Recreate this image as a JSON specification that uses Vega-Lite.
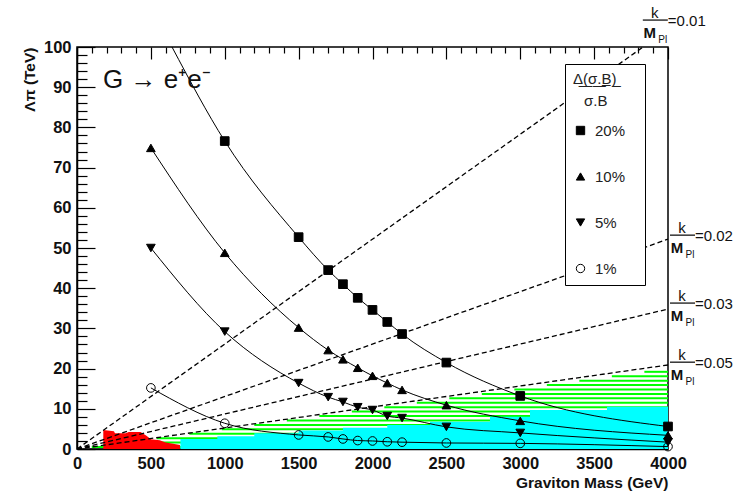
{
  "$schema": "https://vega.github.io/schema/vega-lite/v6.json",
  "width": 591,
  "height": 402,
  "autosize": {"type": "none"},
  "padding": {"left": 77, "top": 47, "right": 68, "bottom": 45},
  "background": "white",
  "config": {
    "view": {"stroke": "black", "strokeWidth": 1.5},
    "font": "Liberation Sans",
    "axis": {
      "domainColor": "black", "domainWidth": 1.5, "tickColor": "black", "tickWidth": 1.2, "grid": false,
      "labelFont": "Liberation Sans", "labelFontWeight": "bold", "labelFontSize": 16.5, "labelColor": "#111",
      "titleFont": "Liberation Sans", "titleFontWeight": "bold", "titleFontSize": 15.5, "titleColor": "#111"
    }
  },
  "datasets": {
    "hatch": [
      {"m": 100, "lam": 0.5}, {"m": 320, "lam": 1.6}, {"m": 540, "lam": 2.7}, {"m": 760, "lam": 3.8},
      {"m": 980, "lam": 4.9}, {"m": 1200, "lam": 6.0}, {"m": 1420, "lam": 7.1}, {"m": 1640, "lam": 8.2},
      {"m": 1860, "lam": 9.3}, {"m": 2080, "lam": 10.4}, {"m": 2300, "lam": 11.5}, {"m": 2520, "lam": 12.6},
      {"m": 2740, "lam": 13.7}, {"m": 2960, "lam": 14.8}, {"m": 3180, "lam": 15.9}, {"m": 3400, "lam": 17.0},
      {"m": 3620, "lam": 18.1}, {"m": 3840, "lam": 19.2}
    ],
    "cyan": [
      {"m": 700, "lam": 2.5}, {"m": 950, "lam": 3.2}, {"m": 1200, "lam": 3.9}, {"m": 1500, "lam": 4.6},
      {"m": 1800, "lam": 5.3}, {"m": 2100, "lam": 6.0}, {"m": 2389, "lam": 6.8}, {"m": 2795, "lam": 8.0},
      {"m": 3066, "lam": 9.7}, {"m": 3587, "lam": 10.5}, {"m": 4000, "lam": 10.5}
    ],
    "red": [
      {"m": 178, "lam": 4.7}, {"m": 250, "lam": 4.4}, {"m": 257, "lam": 3.9}, {"m": 330, "lam": 3.9},
      {"m": 350, "lam": 4.2}, {"m": 430, "lam": 4.2}, {"m": 470, "lam": 3.3}, {"m": 500, "lam": 2.4},
      {"m": 560, "lam": 2.2}, {"m": 600, "lam": 1.6}, {"m": 650, "lam": 1.3}, {"m": 697, "lam": 1.0}
    ],
    "klines": [
      {"c": "0.01", "m": 0, "lam": 0}, {"c": "0.01", "m": 4000, "lam": 104.4},
      {"c": "0.02", "m": 0, "lam": 0}, {"c": "0.02", "m": 4000, "lam": 52.2},
      {"c": "0.03", "m": 0, "lam": 0}, {"c": "0.03", "m": 4000, "lam": 34.8},
      {"c": "0.05", "m": 0, "lam": 0}, {"c": "0.05", "m": 4000, "lam": 20.9}
    ],
    "klab": [
      {"c": "0.01", "m": 3816, "lam": 106.7, "eq": "=0.01"},
      {"c": "0.02", "m": 4000, "lam": 53.2, "eq": "=0.02"},
      {"c": "0.03", "m": 4000, "lam": 36.3, "eq": "=0.03"},
      {"c": "0.05", "m": 4000, "lam": 21.6, "eq": "=0.05"}
    ],
    "pts": [
      {"s": "20%", "m": 643, "lam": 100, "f": 0},
      {"s": "20%", "m": 1000, "lam": 76.6, "f": 1}, {"s": "20%", "m": 1500, "lam": 52.7, "f": 1},
      {"s": "20%", "m": 1700, "lam": 44.5, "f": 1}, {"s": "20%", "m": 1800, "lam": 41.0, "f": 1},
      {"s": "20%", "m": 1900, "lam": 37.6, "f": 1}, {"s": "20%", "m": 2000, "lam": 34.6, "f": 1},
      {"s": "20%", "m": 2100, "lam": 31.6, "f": 1}, {"s": "20%", "m": 2200, "lam": 28.6, "f": 1},
      {"s": "20%", "m": 2500, "lam": 21.5, "f": 1}, {"s": "20%", "m": 3000, "lam": 13.2, "f": 1},
      {"s": "20%", "m": 4000, "lam": 5.6, "f": 1},
      {"s": "10%", "m": 500, "lam": 74.9, "f": 1}, {"s": "10%", "m": 1000, "lam": 48.8, "f": 1},
      {"s": "10%", "m": 1500, "lam": 30.2, "f": 1}, {"s": "10%", "m": 1700, "lam": 24.6, "f": 1},
      {"s": "10%", "m": 1800, "lam": 22.3, "f": 1}, {"s": "10%", "m": 1900, "lam": 20.2, "f": 1},
      {"s": "10%", "m": 2000, "lam": 18.2, "f": 1}, {"s": "10%", "m": 2100, "lam": 16.4, "f": 1},
      {"s": "10%", "m": 2200, "lam": 14.7, "f": 1}, {"s": "10%", "m": 2500, "lam": 10.9, "f": 1},
      {"s": "10%", "m": 3000, "lam": 7.0, "f": 1}, {"s": "10%", "m": 4000, "lam": 3.4, "f": 1},
      {"s": "5%", "m": 500, "lam": 50.0, "f": 1}, {"s": "5%", "m": 1000, "lam": 29.2, "f": 1},
      {"s": "5%", "m": 1500, "lam": 16.4, "f": 1}, {"s": "5%", "m": 1700, "lam": 12.9, "f": 1},
      {"s": "5%", "m": 1800, "lam": 11.7, "f": 1}, {"s": "5%", "m": 1900, "lam": 10.4, "f": 1},
      {"s": "5%", "m": 2000, "lam": 9.7, "f": 1}, {"s": "5%", "m": 2100, "lam": 8.2, "f": 1},
      {"s": "5%", "m": 2200, "lam": 7.7, "f": 1}, {"s": "5%", "m": 2500, "lam": 5.5, "f": 1},
      {"s": "5%", "m": 3000, "lam": 4.0, "f": 1}, {"s": "5%", "m": 4000, "lam": 1.7, "f": 1},
      {"s": "1%", "m": 500, "lam": 15.2, "f": 1}, {"s": "1%", "m": 1000, "lam": 6.4, "f": 1},
      {"s": "1%", "m": 1500, "lam": 3.5, "f": 1}, {"s": "1%", "m": 1700, "lam": 3.0, "f": 1},
      {"s": "1%", "m": 1800, "lam": 2.5, "f": 1}, {"s": "1%", "m": 1900, "lam": 2.1, "f": 1},
      {"s": "1%", "m": 2000, "lam": 2.0, "f": 1}, {"s": "1%", "m": 2100, "lam": 1.8, "f": 1},
      {"s": "1%", "m": 2200, "lam": 1.7, "f": 1}, {"s": "1%", "m": 2500, "lam": 1.5, "f": 1},
      {"s": "1%", "m": 3000, "lam": 1.4, "f": 1}, {"s": "1%", "m": 4000, "lam": 0.6, "f": 1}
    ]
  },
  "layer": [
    {
      "data": {"name": "hatch"},
      "mark": {"type": "rule", "color": "#00ff00", "strokeWidth": 2},
      "encoding": {
        "x": {"field": "m", "type": "quantitative", "scale": {"domain": [0, 4000], "nice": false, "zero": false},
          "axis": {"orient": "bottom", "values": [0, 500, 1000, 1500, 2000, 2500, 3000, 3500, 4000], "format": "d",
            "ticks": false, "grid": true, "gridColor": "black", "gridWidth": 1.2, "gridOpacity": 1, "gridDash": [12, 1000],
            "labelPadding": 6, "labelFlush": false, "title": "Graviton Mass (GeV)", "titleAnchor": "end", "titlePadding": 4}},
        "x2": {"datum": 4000},
        "y": {"field": "lam", "type": "quantitative", "scale": {"domain": [0, 100], "nice": false},
          "axis": {"orient": "left", "values": [0, 10, 20, 30, 40, 50, 60, 70, 80, 90, 100], "ticks": false,
            "grid": true, "gridColor": "black", "gridWidth": 1.2, "gridOpacity": 1, "gridDash": [18, 1000],
            "labelPadding": 6, "labelFlush": false, "title": "Λπ (TeV)", "titleAnchor": "end", "titlePadding": 6}}
      }
    },
    {
      "data": {"name": "cyan"},
      "mark": {"type": "area", "color": "#00ffff", "interpolate": "step-after", "opacity": 1},
      "encoding": {
        "x": {"field": "m", "type": "quantitative", "scale": {"domain": [0, 4000], "nice": false, "zero": false},
          "axis": {"orient": "bottom", "values": [100,200,300,400,600,700,800,900,1100,1200,1300,1400,1600,1700,1800,1900,2100,2200,2300,2400,2600,2700,2800,2900,3100,3200,3300,3400,3600,3700,3800,3900],
            "ticks": false, "grid": true, "gridColor": "black", "gridWidth": 1.2, "gridDash": [6, 1000], "gridOpacity": 1,
            "labels": false, "domain": false, "title": null}},
        "y": {"field": "lam", "type": "quantitative", "scale": {"domain": [0, 100], "nice": false},
          "axis": {"orient": "left", "values": [2,4,6,8,12,14,16,18,22,24,26,28,32,34,36,38,42,44,46,48,52,54,56,58,62,64,66,68,72,74,76,78,82,84,86,88,92,94,96,98],
            "ticks": false, "grid": true, "gridColor": "black", "gridWidth": 1.2, "gridDash": [10, 1000], "gridOpacity": 1,
            "labels": false, "domain": false, "title": null}}
      }
    },
    {
      "data": {"name": "red"},
      "mark": {"type": "area", "color": "#ff0000", "opacity": 1},
      "encoding": {
        "x": {"field": "m", "type": "quantitative", "scale": {"domain": [0, 4000], "nice": false, "zero": false}, "axis": null},
        "y": {"field": "lam", "type": "quantitative", "scale": {"domain": [0, 100], "nice": false}, "axis": null}
      }
    },
    {
      "data": {"name": "klines"},
      "mark": {"type": "line", "color": "black", "strokeWidth": 1.3, "strokeDash": [5, 3], "clip": true},
      "encoding": {
        "x": {"field": "m", "type": "quantitative", "scale": {"domain": [0, 4000], "nice": false, "zero": false}, "axis": null},
        "y": {"field": "lam", "type": "quantitative", "scale": {"domain": [0, 100], "nice": false}, "axis": null},
        "detail": {"field": "c"}
      }
    },
    {
      "data": {"name": "pts"},
      "mark": {"type": "line", "color": "black", "strokeWidth": 1, "interpolate": "monotone", "clip": true},
      "encoding": {
        "x": {"field": "m", "type": "quantitative", "scale": {"domain": [0, 4000], "nice": false, "zero": false}, "axis": null},
        "y": {"field": "lam", "type": "quantitative", "scale": {"domain": [0, 100], "nice": false}, "axis": null},
        "detail": {"field": "s"}
      }
    },
    {
      "data": {"name": "pts"},
      "transform": [{"filter": "datum.f == 1"}],
      "mark": {"type": "point", "strokeWidth": 1, "opacity": 1, "size": 75},
      "encoding": {
        "x": {"field": "m", "type": "quantitative", "scale": {"domain": [0, 4000], "nice": false, "zero": false}, "axis": null},
        "y": {"field": "lam", "type": "quantitative", "scale": {"domain": [0, 100], "nice": false}, "axis": null},
        "shape": {"field": "s", "type": "nominal",
          "scale": {"domain": ["20%", "10%", "5%", "1%"], "range": ["square", "triangle-up", "triangle-down", "circle"]},
          "legend": {"orient": "none", "legendX": 488, "legendY": 17,
            "title": ["Δ\u0332(\u0332σ\u0332.\u0332B\u0332)\u0332", "\u2800σ.B"],
            "fillColor": "white", "strokeColor": "black", "padding": 8,
            "titleFontSize": 15, "titleFontWeight": "normal", "titleLineHeight": 22, "titleColor": "#222", "titleFont": "Liberation Sans",
            "titlePadding": 14, "labelFontSize": 15, "labelColor": "#222", "labelFont": "Liberation Sans",
            "rowPadding": 30, "symbolSize": 70, "symbolStrokeWidth": 1, "labelOffset": 7,
            "labelExpr": "datum.label + '\u2800'"}},
        "fill": {"field": "s", "type": "nominal",
          "scale": {"domain": ["20%", "10%", "5%", "1%"], "range": ["black", "black", "black", "transparent"]},
          "legend": {"orient": "none", "legendX": 488, "legendY": 17,
            "title": ["Δ\u0332(\u0332σ\u0332.\u0332B\u0332)\u0332", "\u2800σ.B"],
            "fillColor": "white", "strokeColor": "black", "padding": 8,
            "titleFontSize": 15, "titleFontWeight": "normal", "titleLineHeight": 22, "titleColor": "#222", "titleFont": "Liberation Sans",
            "titlePadding": 14, "labelFontSize": 15, "labelColor": "#222", "labelFont": "Liberation Sans",
            "rowPadding": 30, "symbolSize": 70, "symbolStrokeWidth": 1, "labelOffset": 7,
            "labelExpr": "datum.label + '\u2800'"}},
        "stroke": {"field": "s", "type": "nominal",
          "scale": {"domain": ["20%", "10%", "5%", "1%"], "range": ["black", "black", "black", "black"]},
          "legend": {"orient": "none", "legendX": 488, "legendY": 17,
            "title": ["Δ\u0332(\u0332σ\u0332.\u0332B\u0332)\u0332", "\u2800σ.B"],
            "fillColor": "white", "strokeColor": "black", "padding": 8,
            "titleFontSize": 15, "titleFontWeight": "normal", "titleLineHeight": 22, "titleColor": "#222", "titleFont": "Liberation Sans",
            "titlePadding": 14, "labelFontSize": 15, "labelColor": "#222", "labelFont": "Liberation Sans",
            "rowPadding": 30, "symbolSize": 70, "symbolStrokeWidth": 1, "labelOffset": 7,
            "labelExpr": "datum.label + '\u2800'"}}
      }
    },
    {
      "data": {"name": "klab"},
      "mark": {"type": "rule", "color": "black", "strokeWidth": 1.2, "xOffset": 2, "x2Offset": 27},
      "encoding": {
        "x": {"field": "m", "type": "quantitative", "scale": {"domain": [0, 4000], "nice": false, "zero": false}, "axis": null},
        "x2": {"field": "m"},
        "y": {"field": "lam", "type": "quantitative", "scale": {"domain": [0, 100], "nice": false}, "axis": null}
      }
    },
    {
      "data": {"name": "klab"},
      "mark": {"type": "text", "text": "k", "fontSize": 15, "align": "center", "baseline": "alphabetic", "dx": 14, "dy": -2, "color": "#111"},
      "encoding": {
        "x": {"field": "m", "type": "quantitative", "scale": {"domain": [0, 4000], "nice": false, "zero": false}, "axis": null},
        "y": {"field": "lam", "type": "quantitative", "scale": {"domain": [0, 100], "nice": false}, "axis": null}
      }
    },
    {
      "data": {"name": "klab"},
      "mark": {"type": "text", "text": "M", "fontSize": 15, "fontWeight": "bold", "align": "center", "baseline": "alphabetic", "dx": 9, "dy": 18, "color": "#111"},
      "encoding": {
        "x": {"field": "m", "type": "quantitative", "scale": {"domain": [0, 4000], "nice": false, "zero": false}, "axis": null},
        "y": {"field": "lam", "type": "quantitative", "scale": {"domain": [0, 100], "nice": false}, "axis": null}
      }
    },
    {
      "data": {"name": "klab"},
      "mark": {"type": "text", "text": "Pl", "fontSize": 10, "align": "center", "baseline": "alphabetic", "dx": 22, "dy": 23, "color": "#111"},
      "encoding": {
        "x": {"field": "m", "type": "quantitative", "scale": {"domain": [0, 4000], "nice": false, "zero": false}, "axis": null},
        "y": {"field": "lam", "type": "quantitative", "scale": {"domain": [0, 100], "nice": false}, "axis": null}
      }
    },
    {
      "data": {"name": "klab"},
      "mark": {"type": "text", "fontSize": 15, "align": "left", "baseline": "middle", "dx": 27, "dy": 1, "color": "#111"},
      "encoding": {
        "x": {"field": "m", "type": "quantitative", "scale": {"domain": [0, 4000], "nice": false, "zero": false}, "axis": null},
        "y": {"field": "lam", "type": "quantitative", "scale": {"domain": [0, 100], "nice": false}, "axis": null},
        "text": {"field": "eq"}
      }
    },
    {
      "data": {"values": [{"m": 176, "lam": 91.8, "t": "G → e⁺e⁻"}]},
      "mark": {"type": "text", "fontSize": 26, "align": "left", "baseline": "middle", "color": "#111"},
      "encoding": {
        "x": {"field": "m", "type": "quantitative", "scale": {"domain": [0, 4000], "nice": false, "zero": false}, "axis": null},
        "y": {"field": "lam", "type": "quantitative", "scale": {"domain": [0, 100], "nice": false}, "axis": null},
        "text": {"field": "t"}
      }
    }
  ],
  "resolve": {"axis": {"x": "independent", "y": "independent"}}
}
